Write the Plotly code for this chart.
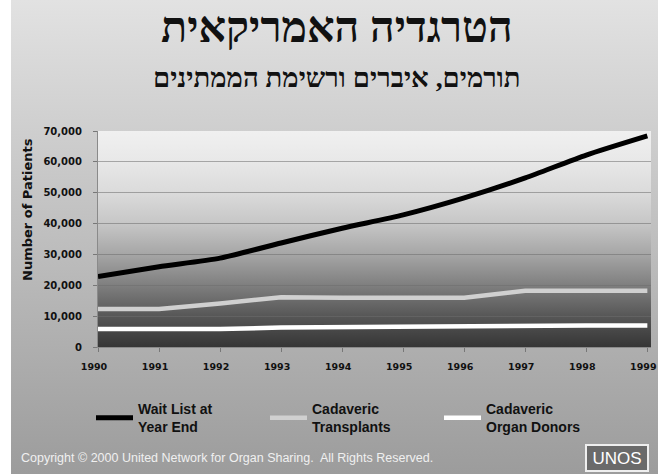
import base64
import plotly.graph_objects as go

# ---------------- data ----------------
years = [1990, 1991, 1992, 1993, 1994, 1995, 1996, 1997, 1998, 1999]
wait_list = [22800, 26000, 28800, 33700, 38500, 42800, 48300, 54800, 62200, 68400]
transplants = [12300, 12300, 14100, 16100, 16000, 16000, 16000, 18200, 18200, 18200]
donors = [5800, 5800, 5800, 6300, 6500, 6600, 6700, 7000, 7000, 7000]
series_names = ["Wait List at<br>Year End", "Cadaveric<br>Transplants", "Cadaveric<br>Organ Donors"]
y_ticks = [0, 10000, 20000, 30000, 40000, 50000, 60000, 70000]
y_tick_text = ["0", "10,000", "20,000", "30,000", "40,000", "50,000", "60,000", "70,000"]

title_text = "הטרגדיה האמריקאית"
subtitle_text = "תורמים, איברים ורשימת הממתינים"
copyright_text = "Copyright © 2000 United Network for Organ Sharing.  All Rights Reserved."

# ---------------- layout geometry ----------------
W, H = 658, 474
ML, MR, MT, MB = 98, 7, 131, 127
PW, PH = W - ML - MR, H - MT - MB


def px_x(px):
    return (px - ML) / PW


def px_y(py):
    return (H - MB - py) / PH


def svg_gradient(stops):
    st = "".join(f'<stop offset="{o}" stop-color="{c}"/>' for o, c in stops)
    svg = ('<svg xmlns="http://www.w3.org/2000/svg" width="100" height="100" preserveAspectRatio="none">'
           '<defs><linearGradient id="g" x1="0" y1="0" x2="0" y2="1">' + st +
           '</linearGradient></defs><rect width="100" height="100" fill="url(#g)"/></svg>')
    return "data:image/svg+xml;base64," + base64.b64encode(svg.encode()).decode()


slide_bg = svg_gradient([(0, "#e2e2e2"), (0.45, "#c2c2c2"), (1, "#9c9c9c")])
plot_bg = svg_gradient([(0, "#f0f0f0"), (0.14, "#e8e8e8"), (0.29, "#dadada"), (0.43, "#c6c6c6"),
                        (0.57, "#a6a6a6"), (0.71, "#808080"), (0.86, "#565656"), (1, "#363636")])

TXT = "#111111"
fig = go.Figure()
colors = ["#000000", "#d0d0d0", "#ffffff"]
widths = [5, 4.5, 4.5]
for name, vals, col, lw, shape in zip(series_names, [wait_list, transplants, donors], colors, widths,
                                       ["spline", "linear", "linear"]):
    fig.add_trace(go.Scatter(x=years, y=vals, mode="lines", name=name,
                             line=dict(color=col, width=lw, shape=shape, smoothing=0.6)))

fig.update_layout(
    width=W, height=H, autosize=False,
    margin=dict(l=ML, r=MR, t=MT, b=MB, autoexpand=False),
    paper_bgcolor="#ffffff",
    plot_bgcolor="rgba(0,0,0,0)",
    showlegend=True,
    legend=dict(orientation="h", x=px_x(91), y=px_y(393), xanchor="left", yanchor="top",
                font=dict(family="Liberation Sans", size=14, color=TXT, weight="bold"),
                bgcolor="rgba(0,0,0,0)", entrywidth=122, entrywidthmode="pixels",
                tracegroupgap=0, itemwidth=37),
    images=[
        dict(source=slide_bg, xref="paper", yref="paper", x=px_x(11), y=px_y(0),
             sizex=(W - 11) / PW, sizey=H / PH, sizing="stretch", layer="below",
             xanchor="left", yanchor="top"),
        dict(source=plot_bg, xref="paper", yref="paper", x=0, y=1, sizex=1, sizey=1,
             sizing="stretch", layer="below", xanchor="left", yanchor="top"),
    ],
    annotations=[
        dict(text=title_text, xref="paper", yref="paper", x=px_x(337), y=px_y(27),
             showarrow=False, font=dict(family="Liberation Serif", size=43, color=TXT, weight="bold"),
             xanchor="center", yanchor="middle"),
        dict(text=subtitle_text, xref="paper", yref="paper", x=px_x(337), y=px_y(77),
             showarrow=False, font=dict(family="Liberation Serif", size=27.5, color=TXT, weight="bold"),
             xanchor="center", yanchor="middle"),
        dict(text="Number of Patients", xref="paper", yref="paper", x=px_x(27), y=px_y(210),
             showarrow=False, textangle=-90,
             font=dict(family="DejaVu Sans", size=13, color=TXT, weight="bold"),
             xanchor="center", yanchor="middle"),
        dict(text=copyright_text, xref="paper", yref="paper", x=px_x(19), y=px_y(458),
             showarrow=False, font=dict(family="Liberation Sans", size=12.5, color="#f0f0f0"),
             xanchor="left", yanchor="middle"),
        dict(text="UNOS", xref="paper", yref="paper", x=px_x(616.5), y=px_y(457.5),
             showarrow=False, font=dict(family="Liberation Sans", size=17, color="#ffffff"),
             xanchor="center", yanchor="middle", bgcolor="#6a6a6a", bordercolor="#eeeeee",
             borderwidth=2, borderpad=1, width=58, height=22),
    ],
)

fig.update_xaxes(range=[1990, 1999.06], tickmode="array", tickvals=years, automargin=False,
                 ticks="outside", ticklen=4, tickcolor="#777777", ticklabeloverflow="allow",
                 ticklabelstandoff=7, ticklabelshift=-4,
                 showline=True, linecolor="#8a8a8a", linewidth=1, showgrid=False, zeroline=False,
                 tickfont=dict(family="DejaVu Sans", size=9.5, color=TXT, weight="bold"))
fig.update_yaxes(range=[0, 70000], tickmode="array", tickvals=y_ticks, ticktext=y_tick_text,
                 automargin=False,
                 ticks="outside", ticklen=4, tickcolor="#777777", ticklabelstandoff=9,
                 showline=True, linecolor="#8a8a8a", linewidth=1,
                 showgrid=True, gridcolor="rgba(110,110,110,0.55)", gridwidth=1, zeroline=False,
                 tickfont=dict(family="DejaVu Sans", size=10, color=TXT, weight="bold"))

fig.write_html(
    "out.html",
    config={"displayModeBar": False, "responsive": False},
    post_script=("document.documentElement.style.overflow='hidden';"
                 "document.body.style.overflow='hidden';"
                 "document.body.style.margin='0';"),
)
